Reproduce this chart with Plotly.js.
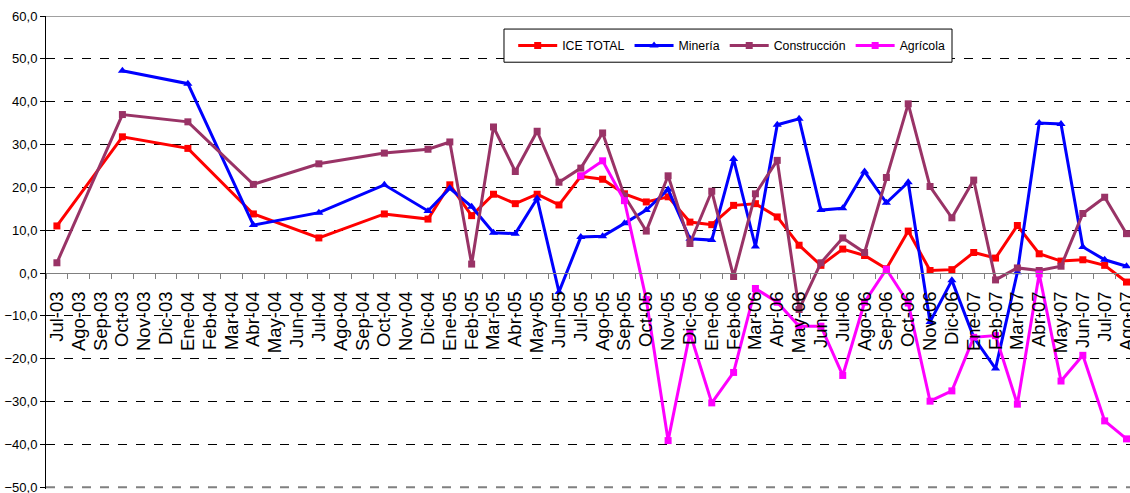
<!DOCTYPE html>
<html>
<head>
<meta charset="utf-8">
<script src="https://cdn.plot.ly/plotly-3.0.1.min.js"></script>
<style>html,body{margin:0;padding:0;background:#fff;}#chart{width:1130px;height:493px;}</style>
</head>
<body>
<div id="chart"></div>
<script>
const categories = ["Jul-03","Ago-03","Sep-03","Oct-03","Nov-03","Dic-03","Ene-04","Feb-04","Mar-04","Abr-04","May-04","Jun-04","Jul-04","Ago-04","Sep-04","Oct-04","Nov-04","Dic-04","Ene-05","Feb-05","Mar-05","Abr-05","May-05","Jun-05","Jul-05","Ago-05","Sep-05","Oct-05","Nov-05","Dic-05","Ene-06","Feb-06","Mar-06","Abr-06","May-06","Jun-06","Jul-06","Ago-06","Sep-06","Oct-06","Nov-06","Dic-06","Ene-07","Feb-07","Mar-07","Abr-07","May-07","Jun-07","Jul-07","Ago-07"];

const iceTotal = [11.0,null,null,31.8,null,null,29.1,null,null,13.8,null,null,8.2,null,null,13.8,null,12.6,20.6,13.4,18.4,16.2,18.4,15.9,22.6,21.9,18.5,16.6,17.8,11.9,11.3,15.8,16.2,13.1,6.5,1.8,5.6,4.1,1.0,9.8,0.6,0.8,4.8,3.5,11.1,4.5,2.8,3.1,1.8,-2.1];

const mineria = [null,null,null,47.2,null,null,44.2,null,null,11.2,null,null,14.1,null,null,20.6,null,14.5,19.8,15.5,9.4,9.2,17.4,-4.4,8.4,8.6,11.6,14.7,19.5,8.0,7.7,26.6,6.2,34.6,36.0,14.7,15.1,23.7,16.4,21.2,-11.4,-1.7,-15.0,-22.3,0.2,35.0,34.8,6.1,3.1,1.6];

const construccion = [2.4,null,null,37.0,null,null,35.3,null,null,20.7,null,null,25.5,null,null,28.0,null,28.9,30.6,2.1,34.1,23.7,33.1,21.2,24.5,32.7,18.0,9.8,22.7,6.9,19.1,-0.8,18.5,26.3,-8.5,2.4,8.2,4.8,22.3,39.5,20.2,12.9,21.7,-1.6,1.2,0.6,1.6,13.9,17.7,9.2];

const agricola = [null,null,null,null,null,null,null,null,null,null,null,null,null,null,null,null,null,null,null,null,null,null,null,null,22.7,26.2,16.9,-6.2,-39.1,-14.0,-30.3,-23.2,-3.6,-6.8,-12.4,-12.4,-23.9,-6.8,0.9,-7.0,-29.9,-27.5,-15.0,-14.6,-30.6,-0.2,-25.2,-19.2,-34.5,-38.7];

const yTickValues = [-50,-40,-30,-20,-10,0,10,20,30,40,50,60];

const seriesNames = ["ICE TOTAL","Minería","Construcción","Agrícola"];
const seriesColors = ["#FF0000","#0000FF","#993366","#FF00FF"];
const seriesSymbols = ["square","triangle-up","square","square"];
const seriesData = [iceTotal, mineria, construccion, agricola];

const traces = seriesData.map((vals, i) => ({
  type: "scatter",
  mode: "lines+markers",
  x: categories,
  y: vals,
  name: seriesNames[i],
  connectgaps: true,
  line: {color: seriesColors[i], width: 3},
  marker: {color: seriesColors[i], symbol: seriesSymbols[i], size: seriesSymbols[i] === "triangle-up" ? 8 : 7},
  cliponaxis: false
}));

const font = "Arial, 'Liberation Sans', sans-serif";

// plot area: top 16px, -50 at 487px
const yMin = -50.4, yMax = 60;

const layout = {
  width: 1130,
  height: 493,
  margin: {l: 46, r: 0, t: 16, b: 4, pad: 0},
  paper_bgcolor: "#ffffff",
  plot_bgcolor: "#ffffff",
  separators: ",.",
  font: {family: font, color: "#000"},
  showlegend: true,
  legend: {
    orientation: "h",
    x: 0.4225 + 0.0085, xanchor: "left",
    y: 0.9374, yanchor: "middle",
    borderwidth: 0, bgcolor: "rgba(0,0,0,0)",
    itemwidth: 39,
    font: {family: font, size: 12.3, color: "#000"}
  },
  xaxis: {
    type: "category",
    categoryorder: "array",
    categoryarray: categories,
    tickmode: "array",
    tickvals: categories,
    ticktext: categories,
    range: [-0.5, 49.16],
    anchor: "free",
    position: (0 - yMin) / (yMax - yMin),
    showline: true,
    linecolor: "#808080",
    linewidth: 1,
    ticks: "outside",
    tickson: "boundaries",
    ticklen: 5,
    tickcolor: "#808080",
    tickangle: -90,
    ticklabelstandoff: 10,
    tickfont: {family: font, size: 18.5, color: "#000"},
    showgrid: false,
    zeroline: false,
    automargin: false,
    fixedrange: true
  },
  yaxis: {
    range: [yMin, yMax],
    tickmode: "array",
    tickvals: yTickValues,
    tickformat: ".1f",
    ticklabeloverflow: "allow",
    showline: true,
    linecolor: "#000",
    linewidth: 1,
    ticks: "outside",
    ticklen: 5,
    tickcolor: "#000",
    tickfont: {family: font, size: 13, color: "#000"},
    showgrid: true,
    gridcolor: "#000",
    griddash: "dash",
    gridwidth: 1,
    zeroline: false,
    automargin: false,
    fixedrange: true
  },
  shapes: [
    {type: "line", xref: "paper", yref: "y", x0: 0, x1: 1, y0: 60, y1: 60, line: {color: "#808080", width: 1.5}},
    {type: "line", xref: "paper", yref: "y", x0: 0, x1: 1, y0: -50, y1: -50, line: {color: "#808080", width: 2, dash: "dash"}},
    {type: "rect", xref: "paper", yref: "paper", layer: "above",
     x0: 0.4225, x1: 0.8358, y0: 0.9023, y1: 0.9724,
     fillcolor: "#ffffff", line: {color: "#000", width: 1}}
  ]
};

Plotly.newPlot("chart", traces, layout, {displayModeBar: false, staticPlot: true});
</script>
</body>
</html>
